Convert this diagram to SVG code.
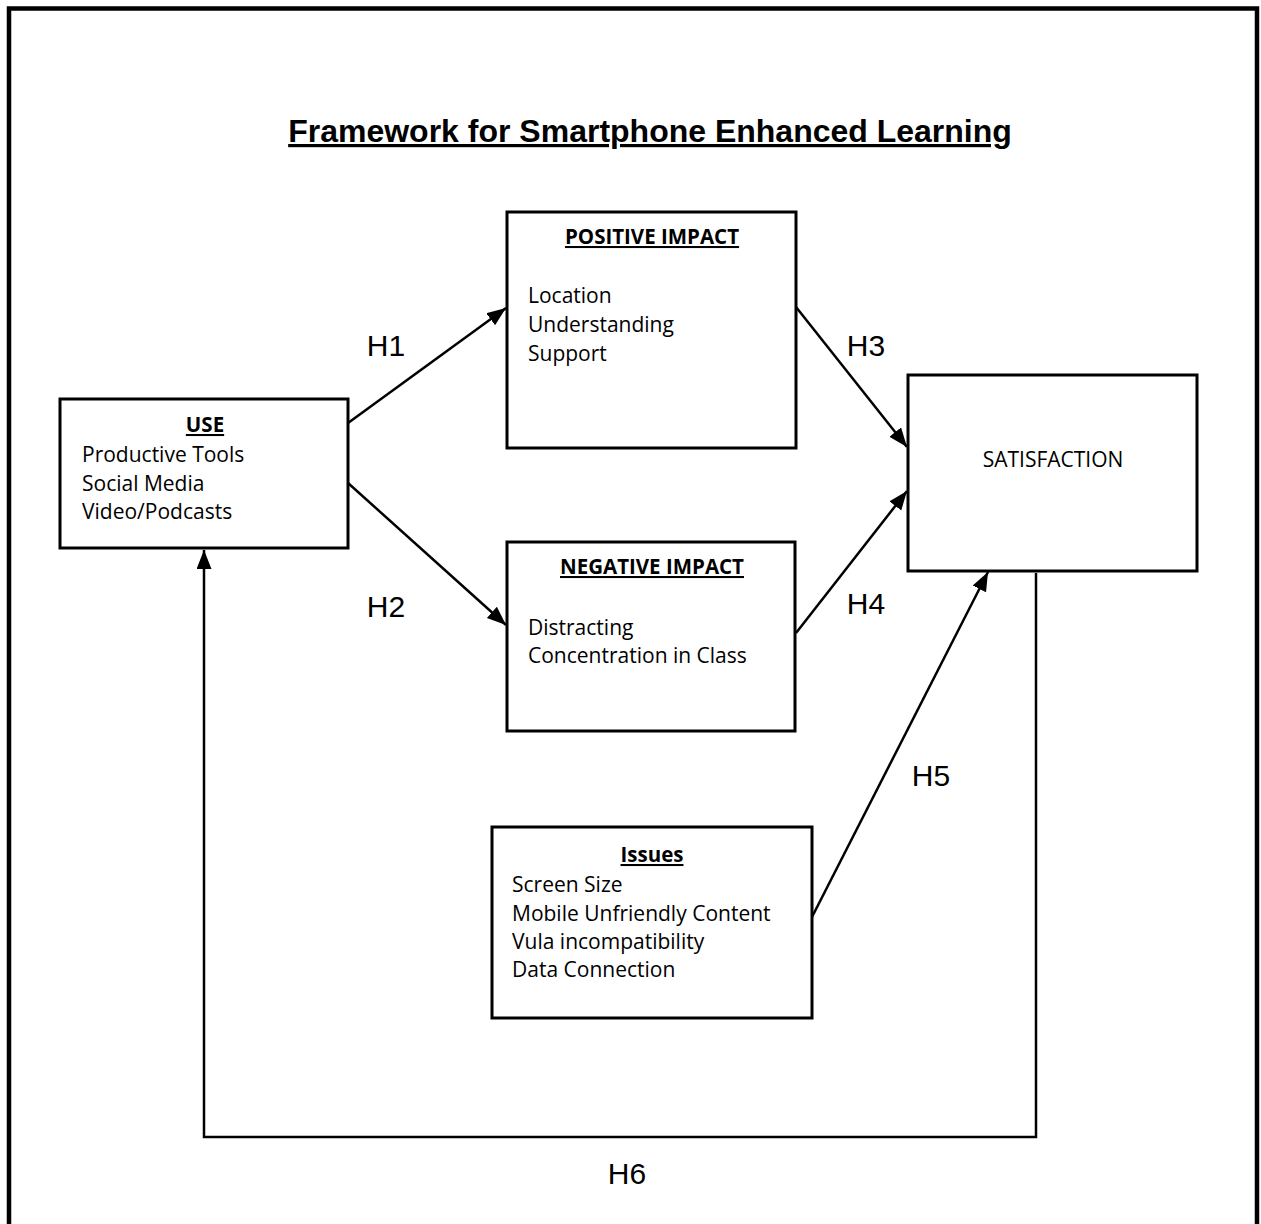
<svg xmlns="http://www.w3.org/2000/svg" width="1261" height="1224" viewBox="0 0 1261 1224">
  <defs>
    <marker id="arrow" markerUnits="userSpaceOnUse" markerWidth="22" markerHeight="16" refX="19" refY="7.5" orient="auto">
      <path d="M0,0 L19,7.5 L0,15 z" fill="#000"/>
    </marker>
    <style>
      .box { fill: #fff; stroke: #000; stroke-width: 3; }
      .body { font-family: "Open Sans", "Noto Sans", "Liberation Sans", sans-serif; font-size: 21px; fill: #000; }
      .head { font-family: "Open Sans", "Noto Sans", "Liberation Sans", sans-serif; font-size: 20.5px; font-weight: bold; fill: #000; text-decoration: underline; }
      .hyp { font-family: "Liberation Sans", Arial, sans-serif; font-size: 30px; fill: #000; text-anchor: middle; }
      .link { fill: none; stroke: #000; stroke-width: 2.5; }
    </style>
  </defs>

  <rect width="1261" height="1224" fill="#fff"/>

  <!-- page frame (open at the bottom) -->
  <path d="M9,1224 V8.5 H1257 V1224" fill="none" stroke="#000" stroke-width="4.5"/>

  <text x="650" y="142" text-anchor="middle" font-family="Liberation Sans, Arial, sans-serif" font-size="32" font-weight="bold" text-decoration="underline">Framework for Smartphone Enhanced Learning</text>

  <!-- connectors -->
  <g id="connectors">
    <line class="link" x1="348" y1="423" x2="506" y2="308" marker-end="url(#arrow)"/>
    <line class="link" x1="348" y1="483" x2="506" y2="625" marker-end="url(#arrow)"/>
    <line class="link" x1="796" y1="307" x2="907" y2="447" marker-end="url(#arrow)"/>
    <line class="link" x1="796" y1="633" x2="907" y2="491" marker-end="url(#arrow)"/>
    <line class="link" x1="812" y1="917" x2="988" y2="572" marker-end="url(#arrow)"/>
    <polyline class="link" points="1036,573 1036,1137 204,1137 204,550" marker-end="url(#arrow)"/>
    <text class="hyp" x="386" y="356">H1</text>
    <text class="hyp" x="386" y="617">H2</text>
    <text class="hyp" x="866" y="356">H3</text>
    <text class="hyp" x="866" y="614">H4</text>
    <text class="hyp" x="931" y="786">H5</text>
    <text class="hyp" x="627" y="1184">H6</text>
  </g>

  <g id="use">
    <rect class="box" x="60" y="399" width="288" height="149"/>
    <text class="head" x="205" y="432" text-anchor="middle">USE</text>
    <text class="body" x="82" y="462">Productive Tools</text>
    <text class="body" x="82" y="491">Social Media</text>
    <text class="body" x="82" y="519">Video/Podcasts</text>
  </g>

  <g id="positive-impact">
    <rect class="box" x="507" y="212" width="289" height="236"/>
    <text class="head" x="652" y="244" text-anchor="middle">POSITIVE IMPACT</text>
    <text class="body" x="528" y="303">Location</text>
    <text class="body" x="528" y="332">Understanding</text>
    <text class="body" x="528" y="361">Support</text>
  </g>

  <g id="negative-impact">
    <rect class="box" x="507" y="542" width="288" height="189"/>
    <text class="head" x="652" y="574" text-anchor="middle">NEGATIVE IMPACT</text>
    <text class="body" x="528" y="635">Distracting</text>
    <text class="body" x="528" y="663">Concentration in Class</text>
  </g>

  <g id="satisfaction">
    <rect class="box" x="908" y="375" width="289" height="196"/>
    <text class="body" x="1053" y="467" text-anchor="middle">SATISFACTION</text>
  </g>

  <g id="issues">
    <rect class="box" x="492" y="827" width="320" height="191"/>
    <text class="head" x="652" y="862" text-anchor="middle">Issues</text>
    <text class="body" x="512" y="892">Screen Size</text>
    <text class="body" x="512" y="921">Mobile Unfriendly Content</text>
    <text class="body" x="512" y="949">Vula incompatibility</text>
    <text class="body" x="512" y="977">Data Connection</text>
  </g>
</svg>
